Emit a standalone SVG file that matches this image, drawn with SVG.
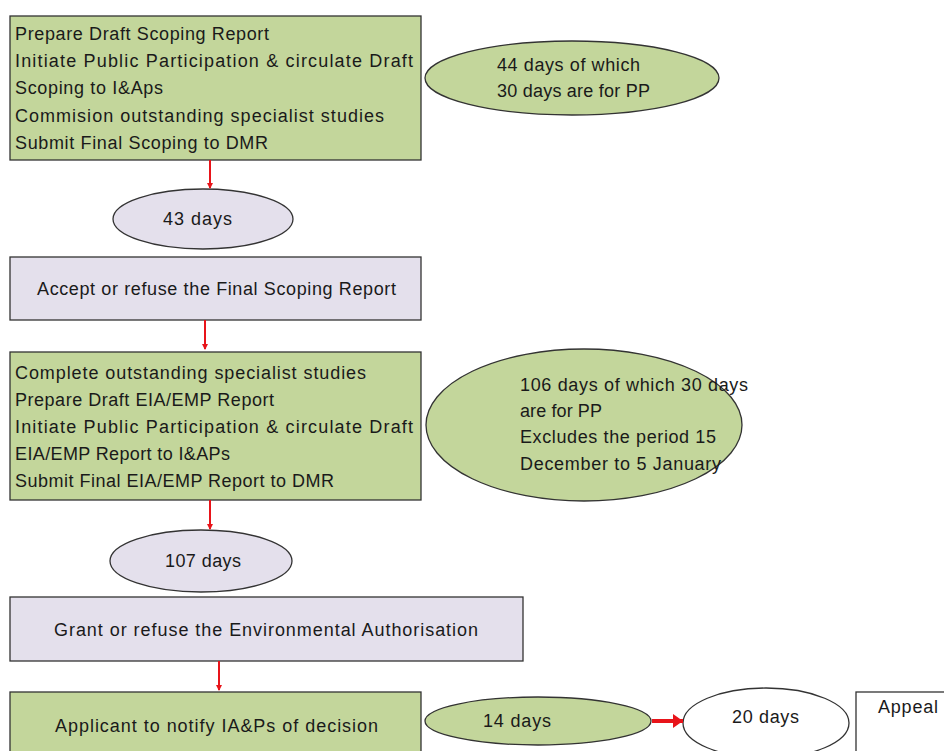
<svg xmlns="http://www.w3.org/2000/svg" width="944" height="751" viewBox="0 0 944 751">
<defs>
<style>
text{font-family:"Liberation Sans",Arial,sans-serif;font-size:18px;fill:#1a1a1a}
.g{fill:#c3d69b;stroke:#333;stroke-width:1.3}
.l{fill:#e4e0ec;stroke:#333;stroke-width:1.3}
.w{fill:#fff;stroke:#333;stroke-width:1.3}
.a{stroke:#e8141a;stroke-width:2;fill:none}
</style>
<marker id="ah" markerWidth="6" markerHeight="6" refX="5" refY="3" orient="auto" markerUnits="userSpaceOnUse">
<path d="M0,0 L6,3 L0,6 Z" fill="#e8141a"/>
</marker>
<marker id="ah2" markerWidth="10" markerHeight="14" refX="10" refY="7" orient="auto" markerUnits="userSpaceOnUse">
<path d="M0,0 L10,7 L0,14 Z" fill="#e8141a"/>
</marker>
</defs>
<g id="box1">
<rect class="g" x="10" y="16" width="411" height="144"/>
<text x="15" y="40" textLength="254" lengthAdjust="spacing">Prepare Draft Scoping Report</text>
<text x="15" y="67" textLength="398" lengthAdjust="spacing">Initiate Public Participation &amp; circulate Draft</text>
<text x="15" y="94" textLength="148" lengthAdjust="spacing">Scoping to I&amp;Aps</text>
<text x="15" y="122" textLength="369" lengthAdjust="spacing">Commision outstanding specialist studies</text>
<text x="15" y="149" textLength="253" lengthAdjust="spacing">Submit Final Scoping to DMR</text>
</g>
<g id="e44">
<ellipse class="g" cx="572" cy="78" rx="147" ry="37"/>
<text x="497" y="71" textLength="143" lengthAdjust="spacing">44 days of which</text>
<text x="497" y="97" textLength="153" lengthAdjust="spacing">30 days are for PP</text>
</g>
<g id="e43">
<ellipse class="l" cx="203" cy="219" rx="90" ry="30"/>
<text x="163" y="225" textLength="69" lengthAdjust="spacing">43 days</text>
</g>
<g id="box2">
<rect class="l" x="10" y="257" width="411" height="63"/>
<text x="37" y="295" textLength="359" lengthAdjust="spacing">Accept or refuse the Final Scoping Report</text>
</g>
<g id="box3">
<rect class="g" x="10" y="352" width="411" height="148"/>
<text x="15" y="379" textLength="351" lengthAdjust="spacing">Complete outstanding specialist studies</text>
<text x="15" y="406" textLength="259" lengthAdjust="spacing">Prepare Draft EIA/EMP Report</text>
<text x="15" y="433" textLength="398" lengthAdjust="spacing">Initiate Public Participation &amp; circulate Draft</text>
<text x="15" y="460" textLength="215" lengthAdjust="spacing">EIA/EMP Report to I&amp;APs</text>
<text x="15" y="487" textLength="319" lengthAdjust="spacing">Submit Final EIA/EMP Report to DMR</text>
</g>
<g id="e106">
<ellipse class="g" cx="584" cy="425" rx="158" ry="76"/>
<text x="520" y="391" textLength="228" lengthAdjust="spacing">106 days of which 30 days</text>
<text x="520" y="417" textLength="82" lengthAdjust="spacing">are for PP</text>
<text x="520" y="443" textLength="196" lengthAdjust="spacing">Excludes the period 15</text>
<text x="520" y="470" textLength="201" lengthAdjust="spacing">December  to 5 January</text>
</g>
<g id="e107">
<ellipse class="l" cx="201" cy="561" rx="91" ry="31"/>
<text x="165" y="567" textLength="76" lengthAdjust="spacing">107 days</text>
</g>
<g id="box4">
<rect class="l" x="10" y="597" width="513" height="64"/>
<text x="54" y="636" textLength="424" lengthAdjust="spacing">Grant or refuse the Environmental Authorisation</text>
</g>
<g id="box5">
<rect class="g" x="10" y="692" width="411" height="70"/>
<text x="55" y="732" textLength="323" lengthAdjust="spacing">Applicant to notify IA&amp;Ps of decision</text>
</g>
<g id="e14">
<ellipse class="g" cx="538" cy="721" rx="113" ry="24"/>
<text x="483" y="727" textLength="68" lengthAdjust="spacing">14 days</text>
</g>
<g id="e20">
<ellipse class="w" cx="766" cy="723" rx="83" ry="35"/>
<text x="732" y="723" textLength="67" lengthAdjust="spacing">20 days</text>
</g>
<g id="appeal">
<rect class="w" x="856" y="692" width="100" height="70"/>
<text x="878" y="713" textLength="60" lengthAdjust="spacing">Appeal</text>
</g>
<g id="connectors">
<line class="a" x1="210" y1="160" x2="210" y2="188" marker-end="url(#ah)"/>
<line class="a" x1="205" y1="320" x2="205" y2="349" marker-end="url(#ah)"/>
<line class="a" x1="210" y1="500" x2="210" y2="529" marker-end="url(#ah)"/>
<line class="a" x1="219" y1="661" x2="219" y2="690" marker-end="url(#ah)"/>
<line x1="652" y1="721" x2="683" y2="721" stroke="#e8141a" stroke-width="4" marker-end="url(#ah2)"/>
</g>
</svg>
